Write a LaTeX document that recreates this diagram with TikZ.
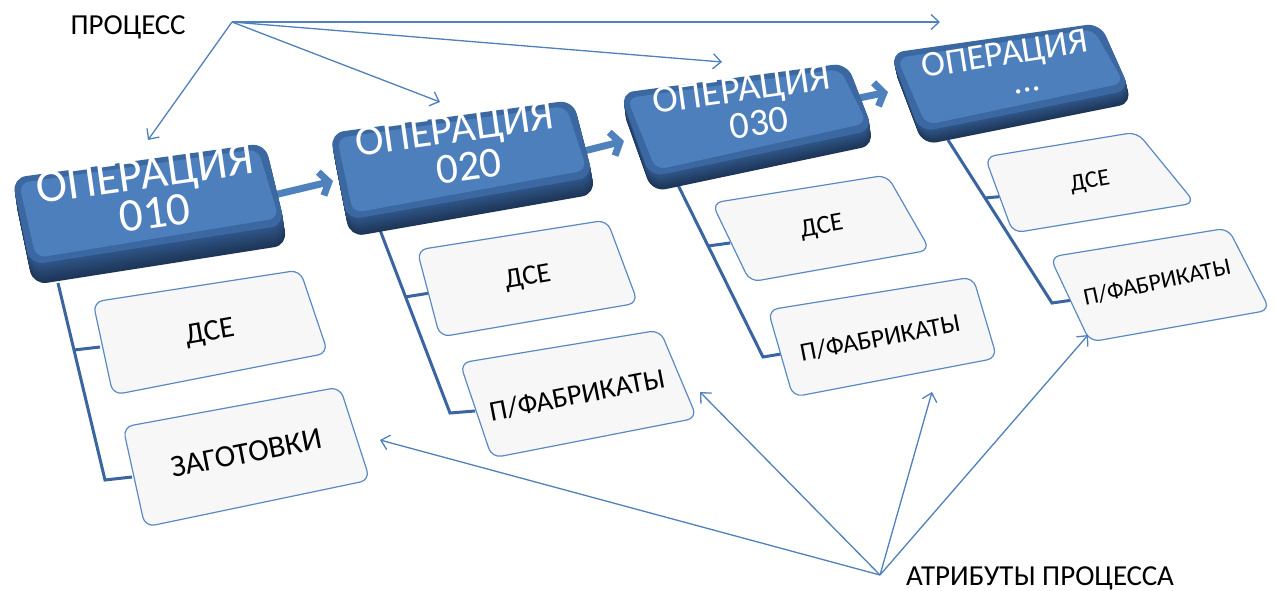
\documentclass[tikz,border=0pt]{standalone}
\usepackage{fontspec}
\setmainfont{Carlito}
\usetikzlibrary{arrows.meta,calc}
\definecolor{blu}{HTML}{4F81BD}
\definecolor{htop}{HTML}{4C7FBC}
\definecolor{hedge}{HTML}{3C68A2}
\definecolor{hmid}{HTML}{2F5689}
\definecolor{hbot}{HTML}{1E3556}
\definecolor{cfill}{HTML}{F7F7F7}
\definecolor{cline}{HTML}{5A8AC6}
\definecolor{treec}{HTML}{3A65A0}
\tikzset{
  childbox/.style={draw=cline, fill=cfill, line width=1.2pt, rounded corners=10pt},
  treeline/.style={draw=treec, line width=3pt},
  thinarr/.style={draw=blu, line width=1.3pt, -{Straight Barb[length=8pt,width=15pt]}},
  fatarr/.style={draw=blu, line width=7pt, -{Straight Barb[length=8pt,width=24pt]}},
  lbl/.style={inner sep=0pt, text=black},
  optxt/.style={inner sep=0pt, text=white},
}
\newcommand\opbox[6]{%
  \foreach \k in {16,15,...,1}{%
    \pgfmathtruncatemacro\pc{100*\k/16}%
    \fill[hbot!\pc!hmid, rounded corners=14pt, shift={(\k*#5/16,\k*#6/16)}] #1 -- #2 -- #3 -- #4 -- cycle;
  }%
  \fill[hedge, rounded corners=14pt] #1 -- #2 -- #3 -- #4 -- cycle;
  \fill[htop, rounded corners=10pt] ($#1+(7,5)$) -- ($#2+(-7,6)$) -- ($#3+(-6,-7)$) -- ($#4+(6,-7)$) -- cycle;
}
\newcommand\optext[5]{%
  \node[optxt, rotate=#3, font=\fontsize{#4}{#4}\selectfont] (#1) at #2 {#5};
}
\newcommand\cbox[9]{%
  \draw[childbox] #2 -- #3 -- #4 -- #5 -- cycle;
  \node[lbl, rotate=#7, font=\fontsize{#8}{#8}\selectfont] (#1) at #6 {#9};
}
\begin{document}
\begin{tikzpicture}[x=1pt, y=-1pt]
\useasboundingbox (0,0) rectangle (1277,591);
\fill[white] (0,0) rectangle (1277,591);

% tree lines
\draw[treeline] (58,283) -- (105,480) -- (132,477);
\draw[treeline] (74,350) -- (100,347);
\draw[treeline] (380,230) -- (450,413) -- (475,411);
\draw[treeline] (405,297) -- (430,293);
\draw[treeline] (677,183) -- (763,357) -- (787,353);
\draw[treeline] (708,246) -- (730,243);
\draw[treeline] (948,140) -- (1052,303) -- (1073,300);
\draw[treeline] (985,198) -- (1007,196);

% thick arrows between operations
\coordinate (a1s) at (270,196); \coordinate (a1e) at (333,181);
\coordinate (a2s) at (580,152); \coordinate (a2e) at (624,141);
\coordinate (a3s) at (840,102); \coordinate (a3e) at (888,92);
\draw[fatarr] (a1s) -- (a1e);
\draw[fatarr] (a2s) -- (a2e);
\draw[fatarr] (a3s) -- (a3e);

% operation boxes
\opbox{(12,178)}{(265,143)}{(285,225)}{(30,265)}{3}{20}
\opbox{(330,133)}{(573,100)}{(593,177)}{(347,220)}{3}{17}
\opbox{(620,93)}{(847,63)}{(873,130)}{(650,177)}{2}{15}
\opbox{(890,53)}{(1100,23)}{(1130,90)}{(920,132)}{3}{13}

\optext{o1}{(145,177)}{8}{47}{ОПЕРАЦИЯ}
\optext{n1}{(155,213)}{8}{47}{010}
\optext{o2}{(455,132)}{8}{43}{ОПЕРАЦИЯ}
\optext{n2}{(469,166)}{8}{43}{020}
\optext{o3}{(742,92)}{8}{38.5}{ОПЕРАЦИЯ}
\optext{n3}{(759,123)}{8}{38.5}{030}
\optext{o4}{(1005,56)}{9}{36}{ОПЕРАЦИЯ}
\optext{n4}{(1028,90)}{9}{36}{...}

% child boxes
\cbox{c1a}{(93,302)}{(300,270)}{(328,353)}{(113,395)}{(210,333)}{10}{30}{ДСЕ}
\cbox{c1b}{(123,427)}{(340,387)}{(370,480)}{(145,527)}{(246,453)}{11}{31}{ЗАГОТОВКИ}
\cbox{c2a}{(417,250)}{(607,220)}{(638,303)}{(440,337)}{(528,278)}{10}{28}{ДСЕ}
\cbox{c2b}{(460,363)}{(660,330)}{(697,418)}{(492,458)}{(577,395)}{11}{28.5}{П/ФАБРИКАТЫ}
\cbox{c3a}{(712,203)}{(887,175)}{(930,250)}{(750,282)}{(822,227)}{10}{26}{ДСЕ}
\cbox{c3b}{(768,310)}{(973,277)}{(997,358)}{(793,397)}{(880,338)}{11}{26}{П/ФАБРИКАТЫ}
\cbox{c4a}{(985,157)}{(1137,132)}{(1195,203)}{(1013,233)}{(1090,182)}{10}{24}{ДСЕ}
\cbox{c4b}{(1050,257)}{(1228,228)}{(1270,310)}{(1090,342)}{(1157,282)}{12}{24}{П/ФАБРИКАТЫ}

% labels
\node[lbl, font=\fontsize{29}{29}\selectfont] (proc) at (128,27) {ПРОЦЕСС};
\node[lbl, font=\fontsize{29}{29}\selectfont] (attr) at (1040,578) {АТРИБУТЫ ПРОЦЕССА};

% thin arrows
\coordinate (po) at (232,22);
\coordinate (pt1) at (148,140);
\coordinate (pt2) at (440,102);
\coordinate (pt3) at (722,62);
\coordinate (pt4) at (940,22);
\foreach \t in {pt1,pt2,pt3,pt4} \draw[thinarr] (po) -- (\t);
\coordinate (ao) at (880,575);
\coordinate (at1) at (380,440);
\coordinate (at2) at (700,392);
\coordinate (at3) at (932,392);
\coordinate (at4) at (1088,335);
\foreach \t in {at1,at2,at3,at4} \draw[thinarr] (ao) -- (\t);
\end{tikzpicture}
\end{document}
